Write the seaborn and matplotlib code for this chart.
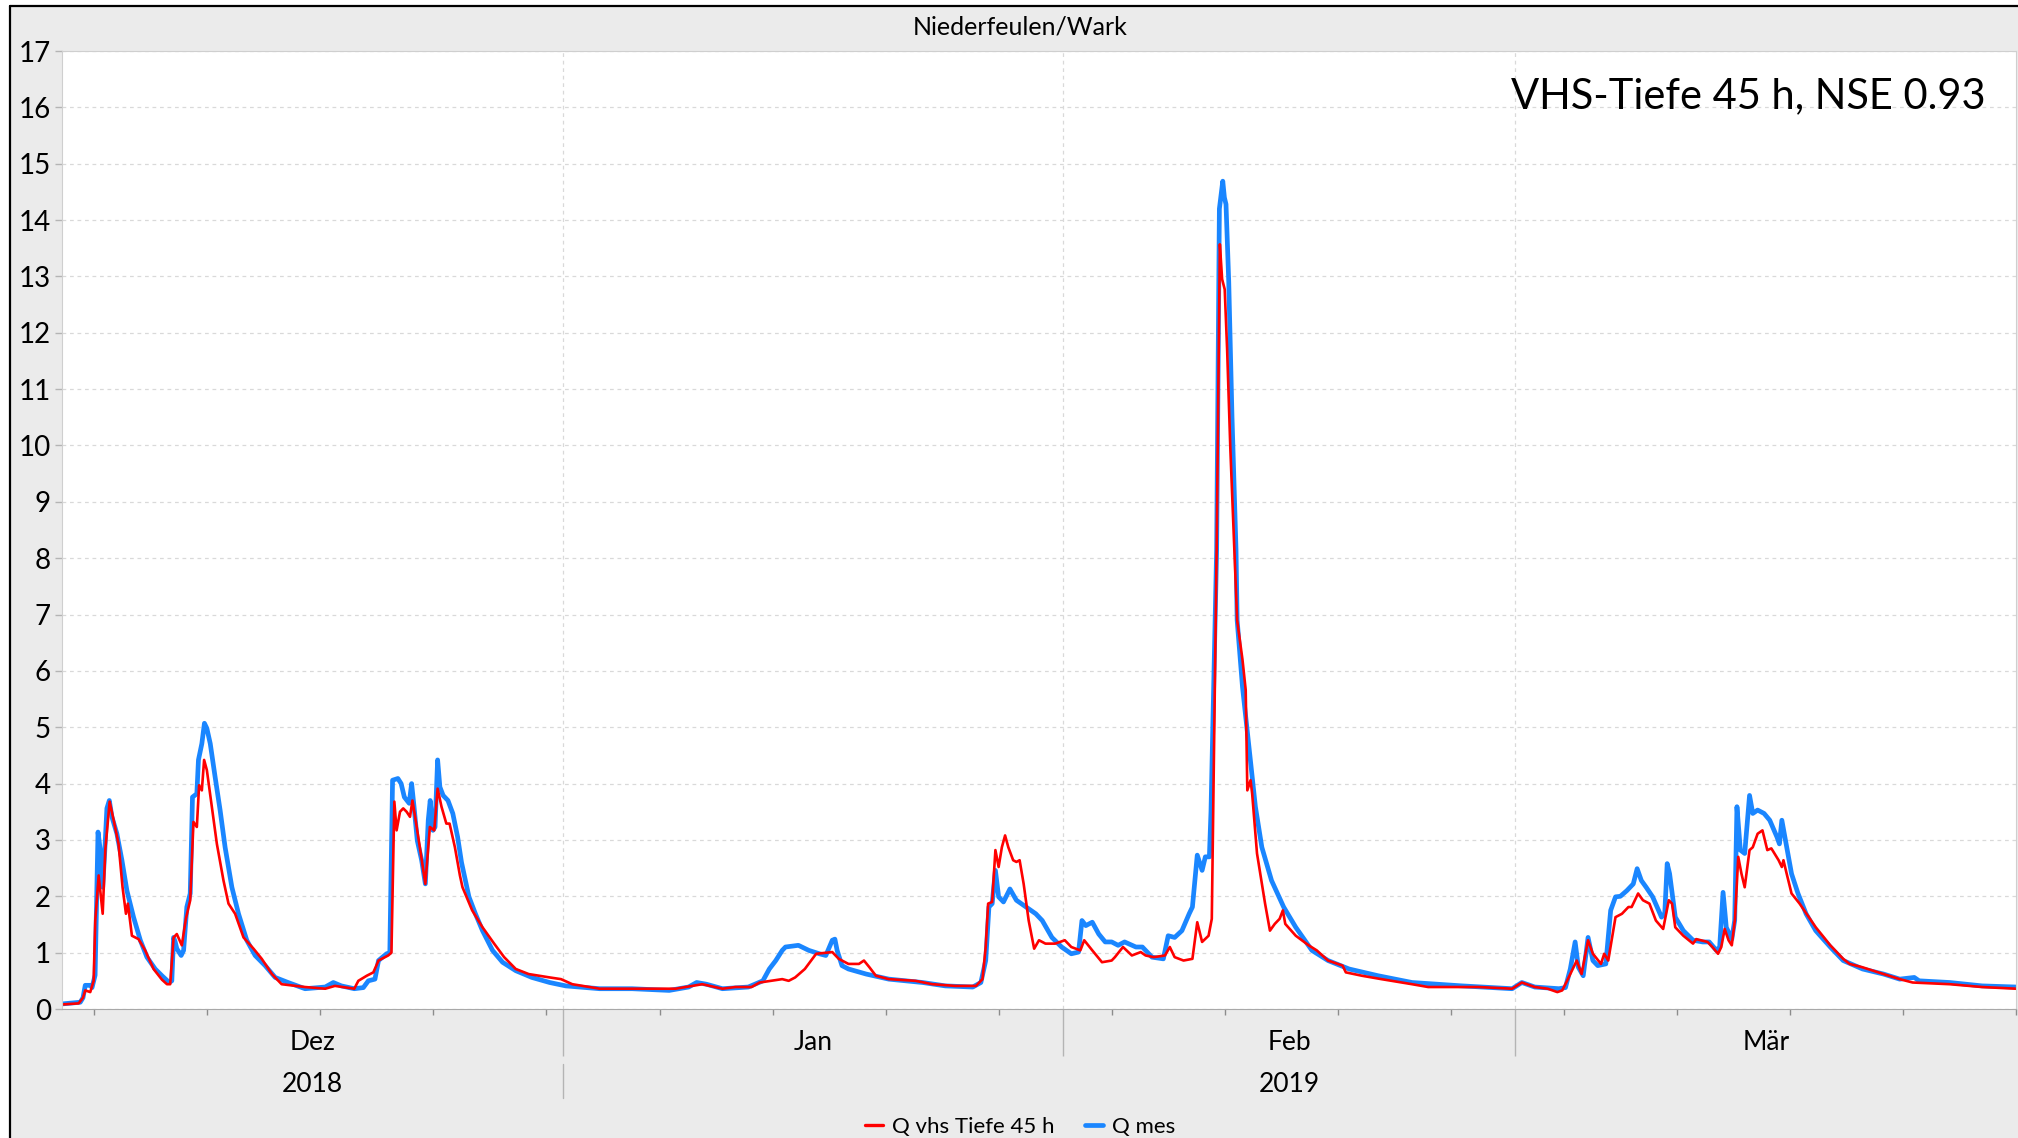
import pandas as pd
import seaborn as sns
import matplotlib
matplotlib.use("Agg")
import matplotlib.pyplot as plt
import matplotlib.dates as mdates
from matplotlib.lines import Line2D
from matplotlib.patches import Rectangle

# days since 2018-12-01 00:00 and discharge
mes_day = [0, 1.13, 1.3, 1.44, 1.75, 1.86, 2.05, 2.12, 2.23, 2.37, 2.52, 2.64, 2.78, 2.93, 3.09,
           3.4, 3.71, 4.02, 4.43, 4.85, 5.26, 5.77, 6.19, 6.64, 6.8, 6.91, 7.0, 7.11, 7.38, 7.53,
           7.73, 7.94, 8.08, 8.35, 8.45, 8.66, 8.82, 8.97, 9.18, 9.48, 9.79, 10.1, 10.52, 10.93,
           11.44, 11.96, 12.58, 13.2, 14.0, 15.05, 16.3, 16.8, 17.3, 18.1, 18.66, 18.97, 19.38,
           19.6, 20.1, 20.3, 20.47, 20.8, 21.0, 21.2, 21.5, 21.65, 21.8, 22.0, 22.27, 22.5, 22.68,
           22.8, 22.97, 23.1, 23.26, 23.4, 23.6, 23.9, 24.2, 24.5, 24.74,
           25.2, 25.6, 26.04, 26.66, 27.28, 28.1, 29.1, 30.2, 31.2, 33.3, 35.3, 37.6, 38.8, 39.3,
           39.9, 40.9, 42.5, 43.4, 43.8, 44.2, 44.6, 44.8, 45.6, 46.25, 46.9, 47.3, 47.7, 47.86,
           48.0, 48.3, 48.7,
           49.8, 51.2, 53.3, 54.7, 56.4, 56.9, 57.2, 57.4, 57.6, 57.8, 58.0, 58.3, 58.7, 59.1,
           59.7, 60.3, 60.7, 61.3, 61.9, 62.5, 62.95, 63.16, 63.4, 63.8, 64.2, 64.6, 65.0, 65.4,
           65.8, 66.5, 66.9, 67.5, 68.2, 68.5, 68.9, 69.35, 69.8, 70.0, 70.3, 70.6, 70.8, 71.05,
           71.15, 71.5, 71.62, 71.67, 71.8, 71.88, 71.98, 72.08, 72.25, 72.45, 72.7,
           72.77, 73.1, 73.5, 73.9, 74.3, 74.9, 75.65, 76.4, 77.4, 78.4, 79.7, 81.5, 83.6, 86.7,
           89.8, 90.4, 91.2, 92.7, 93.1, 93.4, 93.7, 93.9, 94.2, 94.5, 94.8, 95.1, 95.6, 95.9,
           96.2, 96.5, 96.9, 97.3, 97.54, 97.8, 98.1, 98.5, 99.05, 99.25, 99.4, 99.55, 99.9,
           100.4, 101.0, 101.6, 102.0, 102.45, 102.65, 102.86, 103.06, 103.4, 103.58, 103.72,
           103.93, 104.2, 104.5, 104.7, 105.0, 105.4, 105.75, 106.2, 106.35, 106.5, 106.8,
           107.1, 107.5, 108.0, 108.6, 109.5, 110.3, 111.5, 112.8, 113.8, 114.7, 115.0, 116.9,
           118.9, 121.0]
mes_q = [0.09, 0.12, 0.2, 0.42, 0.42, 0.38, 0.6, 1.57, 3.14, 2.82, 2.16, 2.76, 3.56, 3.70, 3.41,
         3.11, 2.64, 2.10, 1.63, 1.22, 0.92, 0.71, 0.59, 0.47, 0.5, 1.27, 1.2, 1.07, 0.95, 1.04,
         1.81, 2.05, 3.76, 3.82, 4.42, 4.71, 5.07, 4.98, 4.71, 4.12, 3.53, 2.87, 2.16, 1.69,
         1.22, 0.95, 0.77, 0.56, 0.47, 0.36, 0.39, 0.47, 0.41, 0.36, 0.38, 0.50, 0.53,
         0.86, 0.98, 1.0, 4.06, 4.09, 4.0, 3.76, 3.65, 4.0, 3.59, 2.99, 2.64, 2.22, 3.35,
         3.70, 3.17, 3.23, 4.42, 3.94, 3.79, 3.70, 3.47, 3.05, 2.6,
         1.99, 1.69, 1.39, 1.04, 0.83, 0.68, 0.56, 0.47, 0.41, 0.36, 0.36, 0.33, 0.39, 0.47,
         0.44, 0.36, 0.39, 0.50, 0.71, 0.86, 1.04, 1.10, 1.13, 1.04, 0.98, 0.95, 1.22, 1.24,
         1.04, 0.77, 0.71,
         0.62, 0.53, 0.47, 0.41, 0.39, 0.47, 0.86, 1.81, 1.87, 2.46, 1.99, 1.90, 2.13, 1.93,
         1.81, 1.69, 1.57, 1.27, 1.10, 0.98, 1.01, 1.57, 1.48, 1.54, 1.33, 1.19, 1.19, 1.13,
         1.19, 1.10, 1.10, 0.92, 0.89, 1.30, 1.27, 1.39, 1.69, 1.81, 2.73, 2.46, 2.70, 2.70,
         3.5, 8.15, 12.5, 14.2, 14.5, 14.69, 14.4, 14.28, 12.9, 10.52, 8.15,
         6.9, 5.72, 4.65, 3.59, 2.87, 2.28, 1.81, 1.45, 1.04, 0.86, 0.71, 0.59, 0.47, 0.41,
         0.36, 0.47, 0.39, 0.36, 0.38, 0.71, 1.19, 0.74, 0.59, 1.27, 0.86, 0.77, 0.80, 1.75,
         1.99, 2.0, 2.10, 2.22, 2.49, 2.28, 2.16, 1.99, 1.63, 1.7, 2.58, 2.40, 1.63,
         1.39, 1.22, 1.19, 1.19, 1.04, 1.1, 2.07, 1.45, 1.24, 1.57, 3.59,
         2.82, 2.76, 3.79, 3.47, 3.53, 3.47, 3.35, 3.05, 2.93, 3.35, 2.87,
         2.40, 2.05, 1.69, 1.39, 1.10, 0.86, 0.71, 0.62, 0.53, 0.56, 0.50, 0.47,
         0.41, 0.39]

sim_day = [0, 1.03, 1.3, 1.44, 1.75, 1.96, 2.06, 2.27, 2.52, 2.68, 2.95, 3.2, 3.5, 3.75, 3.96,
           4.08, 4.33, 4.74, 5.15, 5.67, 6.19, 6.5, 6.7, 6.91, 7.11, 7.42, 7.67, 7.94, 8.14, 8.35,
           8.49, 8.66, 8.8, 8.97, 9.28, 9.59, 10.0, 10.31, 10.72, 11.24, 11.86, 12.37, 13.0, 13.6,
           15.05, 16.3, 16.9, 18.1, 18.35, 18.87, 19.28, 19.6, 20.2, 20.4, 20.58, 20.72, 20.93,
           21.13, 21.34, 21.55, 21.7, 21.9, 22.16, 22.5, 22.78, 23.05, 23.26, 23.5, 23.8, 24.0,
           24.33, 24.64,
           24.8, 25.4, 26.04, 26.76, 27.38, 28.1, 28.9, 30.2, 30.9, 31.6, 33.3, 35.3, 38.0, 39.65,
           40.9, 41.7, 42.7, 43.2, 44.6, 45.0, 45.4, 46.0, 46.7, 47.7, 48.1, 48.7,
           49.35, 49.66, 50.0, 50.4, 51.2, 52.85, 53.9, 55.3, 56.6, 57.0, 57.2, 57.35, 57.6, 57.8,
           58.0, 58.2, 58.4, 58.6, 58.9, 59.1, 59.3, 59.55, 59.86, 60.2, 60.5, 60.9, 61.5, 62.1,
           62.5, 63.06, 63.3, 63.8, 64.4, 65.0, 65.2, 65.7, 66.25, 66.8, 67.1, 67.6, 68.3, 68.6,
           68.9, 69.45, 70.0, 70.3, 70.6, 71.0, 71.2, 71.5, 71.7, 71.84, 72.0, 72.15, 72.35, 72.6,
           72.77, 73.1, 73.3, 73.4, 73.6, 73.7, 74.0, 74.2, 74.5, 74.8, 75.1, 75.4, 75.6, 75.75,
           76.4, 77.2, 77.7, 78.4, 79.3, 79.5, 80.5, 81.7, 83.6, 84.6, 87.7, 89.8, 90.4, 91.2,
           92.0, 92.6, 92.9, 93.2, 93.8, 94.1, 94.5, 94.8, 95.3, 95.5, 95.75, 96.2, 96.6, 97.0,
           97.2, 97.6, 97.9, 98.3, 98.7, 99.15, 99.5, 99.7, 99.9, 100.4, 101.0, 101.2, 101.9,
           102.2, 102.55, 102.75, 102.96, 103.2, 103.4, 103.6, 103.8, 104.0, 104.2, 104.5, 104.7,
           105.0, 105.3, 105.6, 105.85, 106.3, 106.5, 106.6, 106.8, 107.1, 107.6, 108.1, 108.6,
           109.5, 110.3, 110.7, 111.5, 112.8, 113.8, 114.6, 116.9, 118.9, 121.0]
sim_q = [0.08, 0.10, 0.2, 0.33, 0.30, 0.50, 1.57, 2.37, 1.69, 2.82, 3.68, 3.35, 2.93, 2.16, 1.69,
         1.87, 1.30, 1.24, 1.04, 0.71, 0.52, 0.44, 0.44, 1.27, 1.33, 1.13, 1.60, 1.93, 3.32, 3.23,
         3.97, 3.88, 4.42, 4.24, 3.59, 2.93, 2.28, 1.87, 1.69, 1.27, 1.07, 0.89, 0.62, 0.44,
         0.39, 0.36, 0.41, 0.36, 0.50, 0.59, 0.65, 0.86, 0.95, 1.0, 3.68, 3.17, 3.50,
         3.56, 3.50, 3.41, 3.70, 3.35, 2.87, 2.22, 3.23, 3.17, 3.91, 3.59, 3.29, 3.29,
         2.87, 2.37,
         2.16, 1.75, 1.45, 1.16, 0.92, 0.71, 0.62, 0.56, 0.53, 0.44, 0.36, 0.36, 0.36, 0.44,
         0.36, 0.39, 0.39, 0.47, 0.53, 0.50, 0.56, 0.71, 0.98, 1.01, 0.89, 0.80,
         0.80, 0.86, 0.74, 0.59, 0.53, 0.50, 0.44, 0.41, 0.41, 0.53, 1.10, 1.87, 1.90, 2.82,
         2.52, 2.87, 3.08, 2.87, 2.64, 2.61, 2.64, 2.22, 1.57, 1.07, 1.22, 1.16, 1.16, 1.22,
         1.10, 1.04, 1.22, 1.04, 0.83, 0.86, 0.92, 1.10, 0.95, 1.01, 0.95, 0.92, 0.95, 1.10,
         0.92, 0.86, 0.89, 1.54, 1.19, 1.30, 1.6, 8.15, 13.57, 12.95, 12.77, 11.7, 9.93, 8.15,
         6.9, 6.2, 5.66, 3.88, 4.06, 3.82, 2.76, 2.40, 1.87, 1.39, 1.51, 1.60, 1.75, 1.51,
         1.30, 1.13, 1.04, 0.86, 0.77, 0.65, 0.59, 0.53, 0.44, 0.39, 0.39, 0.36, 0.47, 0.39,
         0.36, 0.30, 0.33, 0.50, 0.86, 0.62, 1.22, 0.98, 0.80, 0.98, 0.86, 1.63, 1.69, 1.81,
         1.81, 2.05, 1.93, 1.87, 1.57, 1.42, 1.93, 1.87, 1.45, 1.30, 1.16, 1.24, 1.19,
         1.10, 0.98, 1.1, 1.42, 1.22, 1.13, 1.6, 2.70, 2.40, 2.16, 2.82, 2.87,
         3.11, 3.17, 2.82, 2.85, 2.64, 2.52, 2.64, 2.40, 2.05, 1.87, 1.66, 1.45,
         1.13, 0.89, 0.80, 0.74, 0.62, 0.53, 0.47, 0.44, 0.39, 0.36]

months = ["Dez", "Jan", "Feb", "Mär"]
month_mid = ["2018-12-16 12:00", "2019-01-16 12:00", "2019-02-15", "2019-03-16 12:00"]
years = ["2018", "2019"]
year_mid = ["2018-12-16 12:00", "2019-02-15"]

start = pd.Timestamp("2018-12-01")
end = pd.Timestamp("2019-04-01")
df_mes = pd.DataFrame({"t": start + pd.to_timedelta(mes_day, unit="D"), "q": mes_q})
df_sim = pd.DataFrame({"t": start + pd.to_timedelta(sim_day, unit="D"), "q": sim_q})

sns.set_style("white")
plt.rcParams["font.family"] = ["Lato", "DejaVu Sans"]
plt.rcParams["text.color"] = "black"

W, H = 2018, 1138
fig = plt.figure(figsize=(W / 100, H / 100), dpi=100, facecolor="white")
fig.patches.append(Rectangle((10 / W, 0), 1, 1 - 6 / H, transform=fig.transFigure,
                             facecolor="#EBEBEB", edgecolor="none", zorder=-10))
fig.add_artist(Line2D([10 / W, 10 / W], [0, 1 - 6 / H], color="black", lw=1.6, zorder=-5))
fig.add_artist(Line2D([10 / W, 1], [1 - 6 / H, 1 - 6 / H], color="black", lw=1.6, zorder=-5))

ax = fig.add_axes([62 / W, 1 - 1009 / H, (2016 - 62) / W, (1009 - 51) / H])
ax.set_facecolor("white")

sns.lineplot(data=df_mes, x="t", y="q", ax=ax, color="#1a86ff", lw=3.4, legend=False)
sns.lineplot(data=df_sim, x="t", y="q", ax=ax, color="#ff0000", lw=1.9, legend=False)

ax.set_xlim(start, end)
ax.set_ylim(0, 17)
ax.set_yticks(range(0, 18))
ax.set_xlabel("")
ax.set_ylabel("")

# month separators only inside the range (Jan, Feb, Mar)
ax.xaxis.set_major_locator(mdates.MonthLocator(bymonth=[1, 2, 3]))
ax.xaxis.set_minor_locator(mdates.WeekdayLocator(byweekday=mdates.MO))
ax.xaxis.set_major_formatter(plt.NullFormatter())
ax.tick_params(axis="x", which="both", bottom=True)
ax.tick_params(axis="x", which="major", length=34, width=1, color="#b4b4b4", direction="out")
ax.tick_params(axis="x", which="minor", length=4, width=1, color="#8c8c8c", direction="out")
ax.tick_params(axis="y", left=True, length=5, width=1, color="#b4b4b4", labelsize=20, pad=3,
               labelcolor="black")

ax.yaxis.grid(True, ls=(0, (3, 3)), color="#d9d9d9", lw=0.9)
ax.xaxis.grid(True, which="major", ls=(0, (3, 3)), color="#d9d9d9", lw=0.9)
for side in ["left", "top", "right"]:
    ax.spines[side].set_color("#cfcfcf")
ax.spines["bottom"].set_color("#a8a8a8")

tr = ax.get_xaxis_transform()
for name, mid in zip(months, month_mid):
    ax.text(pd.Timestamp(mid), -0.035, name, transform=tr, ha="center", va="center", fontsize=19)
for name, mid in zip(years, year_mid):
    ax.text(pd.Timestamp(mid), -0.079, name, transform=tr, ha="center", va="center", fontsize=19)
jan1 = mdates.date2num(pd.Timestamp("2019-01-01"))
ax.plot([jan1, jan1], [-0.057, -0.093], transform=tr, clip_on=False, color="#b4b4b4", lw=1)

fig.text(1020 / W, 1 - 27 / H, "Niederfeulen/Wark", ha="center", va="center", fontsize=18)
fig.text(1986 / W, 1 - 96 / H, "VHS-Tiefe 45 h, NSE 0.93", ha="right", va="center", fontsize=30)

handles = [Line2D([], [], color="#ff0000", lw=2.4), Line2D([], [], color="#1a86ff", lw=3.4)]
fig.legend(handles, ["Q vhs Tiefe 45 h", "Q mes"], loc="center", bbox_to_anchor=(0.5055, 1 - 1127 / H),
           ncol=2, frameon=False, fontsize=16, handlelength=0.8, columnspacing=1.4, handletextpad=0.4)

fig.savefig("out.png", dpi=100, facecolor=fig.get_facecolor())
